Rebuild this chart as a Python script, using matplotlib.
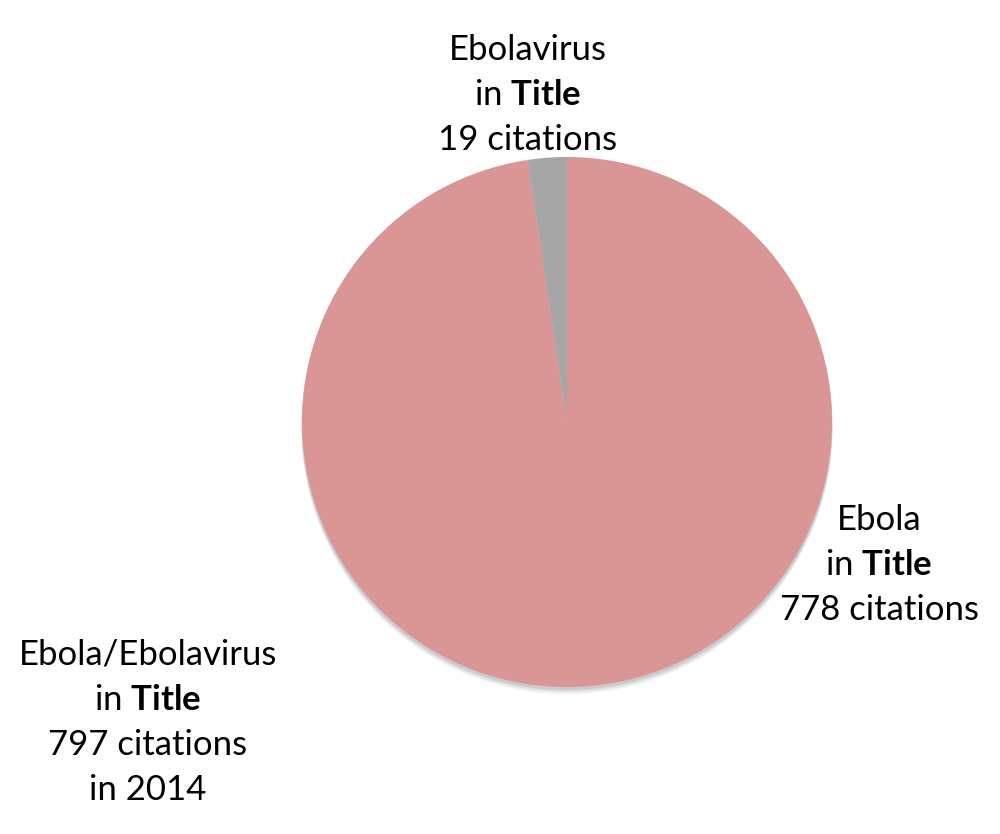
import matplotlib.pyplot as plt
from matplotlib.patches import Circle

plt.rcParams['font.family'] = ['Lato', 'DejaVu Sans']
plt.rcParams['mathtext.fontset'] = 'custom'
plt.rcParams['mathtext.rm'] = 'Lato'
plt.rcParams['mathtext.bf'] = 'Lato:bold'

# data
names = ['Ebolavirus', 'Ebola']
counts = [19, 778]
colors = ['#a6a6a6', '#d99694']
total_year = '2014'

fig = plt.figure(figsize=(10, 8.34), dpi=100)
ax = fig.add_axes([0, 0, 1, 1])

cx, cy, r = 567, 412, 265

# soft shadow below the pie
for i, a in enumerate([0.05, 0.07, 0.09, 0.12]):
    off = 7 - i * 1.5
    ax.add_patch(Circle((cx, cy - off), r + 0.5, color='#555555', alpha=a, lw=0, zorder=1))

ax.pie(counts, colors=colors, startangle=90, counterclock=True,
       center=(cx, cy), radius=r, frame=True,
       wedgeprops=dict(linewidth=0, zorder=2))
ax.set_xlim(0, 1000)
ax.set_ylim(0, 834)
ax.set_aspect('equal')
ax.axis('off')

fs = 25
lh = 45


def label(x, y0, lines):
    for i, s in enumerate(lines):
        ax.text(x, 834 - (y0 + i * lh), s, ha='center', va='center', fontsize=fs, color='black')


label(528, 50, [names[0], r'in $\mathbf{Title}$', '%d citations' % counts[0]])
label(879, 520, [names[1], r'in $\mathbf{Title}$', '%d citations' % counts[1]])
label(148, 655, ['/'.join(reversed(names)), r'in $\mathbf{Title}$',
                 '%d citations' % sum(counts), 'in ' + total_year])

fig.savefig('out.png', dpi=100)
